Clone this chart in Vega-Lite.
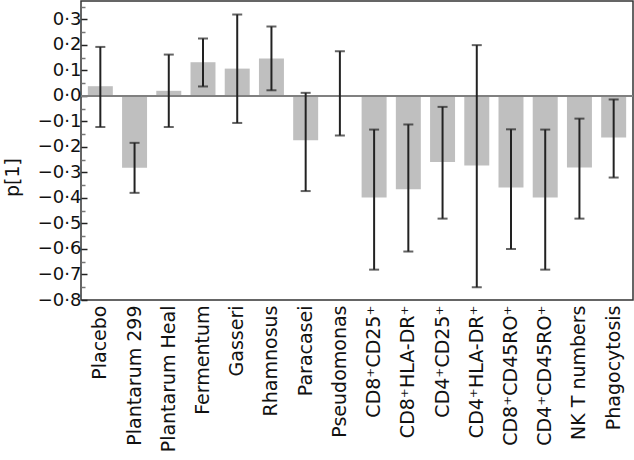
{
  "$schema": "https://vega.github.io/schema/vega-lite/v6.json",
  "autosize": {"type": "none"},
  "padding": {"left": 81, "top": 1, "right": 1, "bottom": 160},
  "width": 552,
  "height": 299,
  "background": "white",
  "config": {
    "view": {"stroke": "#333", "strokeWidth": 1.5},
    "font": "DejaVu Sans"
  },
  "data": {
    "values": [
      {"cat": "Placebo", "p": 0.038, "lo": -0.122, "hi": 0.192},
      {"cat": "Plantarum 299", "p": -0.282, "lo": -0.38, "hi": -0.184},
      {"cat": "Plantarum Heal", "p": 0.02, "lo": -0.122, "hi": 0.162},
      {"cat": "Fermentum", "p": 0.132, "lo": 0.037, "hi": 0.225},
      {"cat": "Gasseri", "p": 0.107, "lo": -0.106, "hi": 0.319},
      {"cat": "Rhamnosus", "p": 0.147, "lo": 0.022, "hi": 0.272},
      {"cat": "Paracasei", "p": -0.174, "lo": -0.373, "hi": 0.012},
      {"cat": "Pseudomonas", "p": 0.003, "lo": -0.155, "hi": 0.175},
      {"cat": "CD8⁺CD25⁺", "p": -0.398, "lo": -0.681, "hi": -0.132},
      {"cat": "CD8⁺HLA-DR⁺", "p": -0.366, "lo": -0.61, "hi": -0.112},
      {"cat": "CD4⁺CD25⁺", "p": -0.259, "lo": -0.481, "hi": -0.043},
      {"cat": "CD4⁺HLA-DR⁺", "p": -0.273, "lo": -0.75, "hi": 0.199},
      {"cat": "CD8⁺CD45RO⁺", "p": -0.359, "lo": -0.6, "hi": -0.131},
      {"cat": "CD4⁺CD45RO⁺", "p": -0.398, "lo": -0.681, "hi": -0.132},
      {"cat": "NK T numbers", "p": -0.281, "lo": -0.481, "hi": -0.089},
      {"cat": "Phagocytosis", "p": -0.163, "lo": -0.32, "hi": -0.014}
    ]
  },
  "encoding": {
    "x": {
      "field": "cat", "type": "nominal", "sort": null,
      "scale": {"paddingInner": 0.27, "paddingOuter": 0.2},
      "axis": {
        "title": null, "labelAngle": 270, "labelFontSize": 19, "labelColor": "#111",
        "ticks": false, "domain": false, "labelPadding": 5, "labelLimit": 200
      }
    }
  },
  "layer": [
    {
      "mark": {"type": "bar", "color": "#bfbfbf"},
      "encoding": {
        "y": {
          "field": "p", "type": "quantitative",
          "scale": {"domain": [-0.8, 0.372], "nice": false, "zero": false},
          "axis": {
            "title": "p[1]", "titleFontSize": 19, "titleFontWeight": "normal", "titleColor": "#111",
            "titleAngle": 270, "titleX": -69, "titleY": 176, "titleAlign": "center", "titleBaseline": "middle",
            "grid": false, "domain": false, "labelOverlap": false, "labelBound": false, "labelFlush": false,
            "tickCount": 24,
            "labelExpr": "abs(round(datum.value*20)) % 2 == 1 ? '' : replace(format(datum.value, '.1f'), '.', '·')",
            "labelFontSize": 18, "labelColor": "#111", "labelPadding": 6,
            "tickSize": {"condition": {"test": "abs(round(datum.value*20)) % 2 == 1", "value": -4}, "value": -6},
            "tickColor": {"condition": {"test": "abs(round(datum.value*20)) % 2 == 1", "value": "#777"}, "value": "#222"},
            "tickWidth": 1.5
          }
        }
      }
    },
    {
      "data": {"values": [{"z": 0}]},
      "mark": {"type": "rule", "color": "#808080", "strokeWidth": 2},
      "encoding": {"y": {"field": "z", "type": "quantitative"}, "x": null}
    },
    {
      "mark": {"type": "rule", "color": "#222", "strokeWidth": 2},
      "encoding": {
        "y": {"field": "lo", "type": "quantitative"},
        "y2": {"field": "hi"}
      }
    },
    {
      "mark": {"type": "tick", "color": "#222", "size": 10, "thickness": 2},
      "encoding": {"y": {"field": "lo", "type": "quantitative"}}
    },
    {
      "mark": {"type": "tick", "color": "#222", "size": 10, "thickness": 2},
      "encoding": {"y": {"field": "hi", "type": "quantitative"}}
    }
  ]
}
